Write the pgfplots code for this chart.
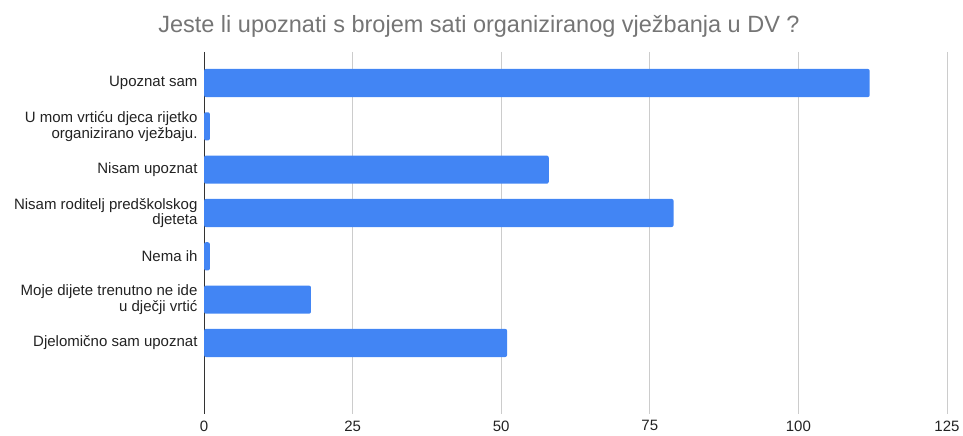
\documentclass[border=0pt]{standalone}
\usepackage{pgfplots}
\pgfplotsset{compat=1.18}
\usepackage{fontspec}
\setmainfont{Liberation Sans}
\definecolor{barblue}{HTML}{4285F4}
\definecolor{gridgray}{HTML}{CCCCCC}
\definecolor{titlegray}{HTML}{757575}
\definecolor{labelgray}{HTML}{222222}
\begin{document}
\begin{tikzpicture}[x=1pt,y=1pt]
\path (0,0) rectangle (963,436);
\node[font=\fontsize{23.5}{27}\selectfont, text=titlegray, anchor=base, inner sep=0pt] at (479,403) {Jeste li upoznati s brojem sati organiziranog vježbanja u DV ?};
\begin{axis}[
  at={(204pt,22pt)}, anchor=south west,
  scale only axis, width=743pt, height=362pt,
  xmin=0, xmax=125, ymin=-0.716, ymax=7.64, y dir=reverse,
  xbar, bar width=0.65,
  xtick={25,50,75,100,125},
  extra x ticks={0},
  extra x tick style={grid style={color=black!80, line width=1pt}},
  ytick={0,...,6},
  yticklabels={{Upoznat sam},{U mom vrtiću djeca rijetko\\organizirano vježbaju.},{Nisam upoznat},{Nisam roditelj predškolskog\\djeteta},{Nema ih},{Moje dijete trenutno ne ide\\u dječji vrtić},{Djelomično sam upoznat}},
  xmajorgrids, grid style={gridgray, line width=1pt},
  axis line style={draw=none},
  major tick length=0pt,
  tick label style={font=\fontsize{15}{15.5}\selectfont, text=labelgray},
  yticklabel style={align=right, xshift=-3pt},
  xticklabel style={yshift=-3pt},
  /pgf/number format/assume math mode=true,
]
\addplot[fill=barblue, draw=none, rounded corners=2pt] coordinates {
(112,0) (1,1) (58,2) (79,3) (1,4) (18,5) (51,6)
};
\end{axis}
\end{tikzpicture}
\end{document}
